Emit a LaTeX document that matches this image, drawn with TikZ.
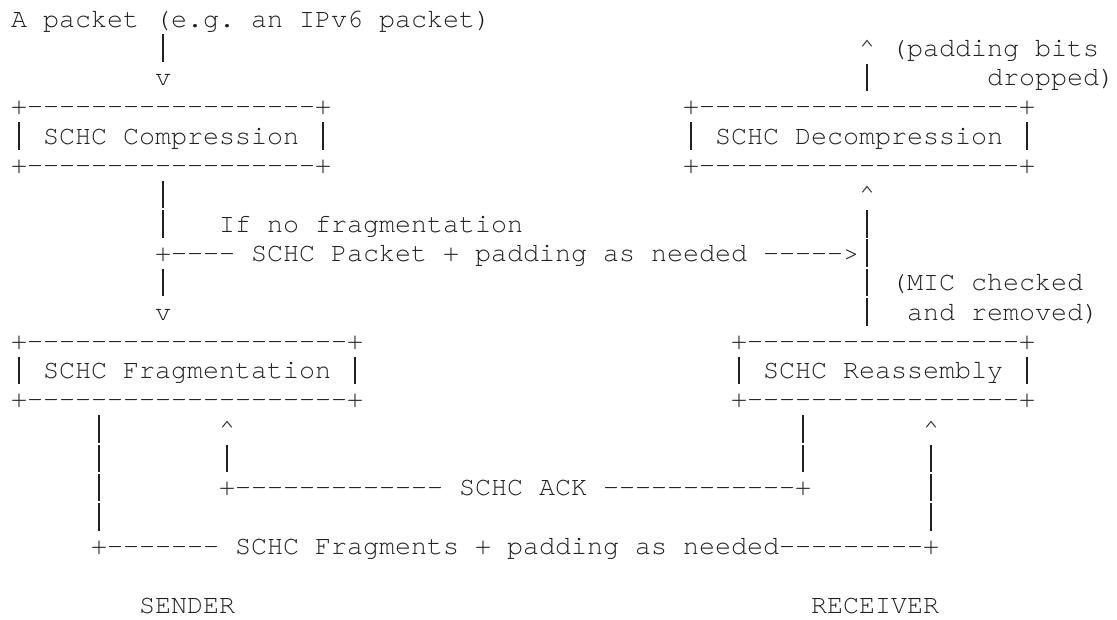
\documentclass[tikz,border=0pt]{standalone}
\usepackage{fontspec}
\setmonofont{texgyrecursor-regular.otf}
\definecolor{ink}{RGB}{34,34,34}
\ExplSyntaxOn
\cs_new:Npn \dashrun #1 { \prg_replicate:nn {#1} {-} }
\ExplSyntaxOff
\newcommand{\up}{\textasciicircum}
% tall vertical bar filling one character cell, so stacked bars nearly join
\newcommand{\vb}{\makebox[16pt][c]{\rule[-5.5pt]{1.5pt}{27.5pt}}}
\tikzset{
  ascii/.style={font=\ttfamily\fontsize{26.67}{30}\selectfont\frenchspacing,
    text=ink, anchor=base west, inner sep=0pt, outer sep=0pt},
  % character cell: column #1 (from 0), text line #2 (from 1)
  gridat/.style 2 args={at={({11+16*(#1)},{-27-29.3*((#2)-1)})}}
}
\begin{document}
\begin{tikzpicture}[x=1pt,y=1pt]
\fill[white] (0,0) rectangle (1117,-619);
\useasboundingbox (0,0) rectangle (1117,-619);

% ---- input and output
\node[ascii, gridat={0}{1}]  (input)   {A packet (e.g. an IPv6 packet)};
\node[ascii, gridat={9}{2}]  (inA)     {\vb};
\node[ascii, gridat={9}{3}]  (inB)     {v};
\node[ascii, gridat={53}{2}] (outA)    {\up};
\node[ascii, gridat={55}{2}] (padA)    {(padding bits};
\node[ascii, gridat={53}{3}] (outB)    {\vb};
\node[ascii, gridat={61}{3}] (padB)    {dropped)};

% ---- compression / decompression boxes
\node[ascii, gridat={0}{4}]  (compT)   {+\dashrun{18}+};
\node[ascii, gridat={0}{5}]  (comp)    {{\vb} SCHC Compression {\vb}};
\node[ascii, gridat={0}{6}]  (compB)   {+\dashrun{18}+};
\node[ascii, gridat={42}{4}] (decT)    {+\dashrun{20}+};
\node[ascii, gridat={42}{5}] (dec)     {{\vb} SCHC Decompression {\vb}};
\node[ascii, gridat={42}{6}] (decB)    {+\dashrun{20}+};

% ---- path between the upper and lower boxes
\node[ascii, gridat={9}{7}]  (sA)      {\vb};
\node[ascii, gridat={9}{8}]  (sB)      {\vb};
\node[ascii, gridat={13}{8}] (nofrag)  {If no fragmentation};
\node[ascii, gridat={9}{9}]  (bypass)  {+\dashrun{4} SCHC Packet + padding as needed \dashrun{5}>\vb};
\node[ascii, gridat={9}{10}] (sC)      {\vb};
\node[ascii, gridat={9}{11}] (sD)      {v};
\node[ascii, gridat={53}{7}] (rA)      {\up};
\node[ascii, gridat={53}{8}] (rB)      {\vb};
\node[ascii, gridat={53}{10}] (rC)     {\vb};
\node[ascii, gridat={55}{10}] (micA)   {(MIC checked};
\node[ascii, gridat={53}{11}] (rD)     {\vb};
\node[ascii, gridat={56}{11}] (micB)   {and removed)};

% ---- fragmentation / reassembly boxes
\node[ascii, gridat={0}{12}]  (fragT)  {+\dashrun{20}+};
\node[ascii, gridat={0}{13}]  (frag)   {{\vb} SCHC Fragmentation {\vb}};
\node[ascii, gridat={0}{14}]  (fragB)  {+\dashrun{20}+};
\node[ascii, gridat={45}{12}] (reasT)  {+\dashrun{17}+};
\node[ascii, gridat={45}{13}] (reas)   {{\vb} SCHC Reassembly {\vb}};
\node[ascii, gridat={45}{14}] (reasB)  {+\dashrun{17}+};

% ---- fragments and acknowledgements
\node[ascii, gridat={5}{15}]  (fA)     {\vb};
\node[ascii, gridat={5}{16}]  (fB)     {\vb};
\node[ascii, gridat={5}{17}]  (fC)     {\vb};
\node[ascii, gridat={5}{18}]  (fD)     {\vb};
\node[ascii, gridat={5}{19}]  (frags)  {+\dashrun{7} SCHC Fragments + padding as needed\dashrun{9}+};
\node[ascii, gridat={13}{15}] (ackA)   {\up};
\node[ascii, gridat={13}{16}] (ackB)   {\vb};
\node[ascii, gridat={13}{17}] (ack)    {+\dashrun{13} SCHC ACK \dashrun{12}+};
\node[ascii, gridat={49}{15}] (aA)     {\vb};
\node[ascii, gridat={49}{16}] (aB)     {\vb};
\node[ascii, gridat={57}{15}] (gA)     {\up};
\node[ascii, gridat={57}{16}] (gB)     {\vb};
\node[ascii, gridat={57}{17}] (gC)     {\vb};
\node[ascii, gridat={57}{18}] (gD)     {\vb};

% ---- roles
\node[ascii, gridat={8}{21}]  (sender)   {SENDER};
\node[ascii, gridat={50}{21}] (receiver) {RECEIVER};
\end{tikzpicture}
\end{document}
